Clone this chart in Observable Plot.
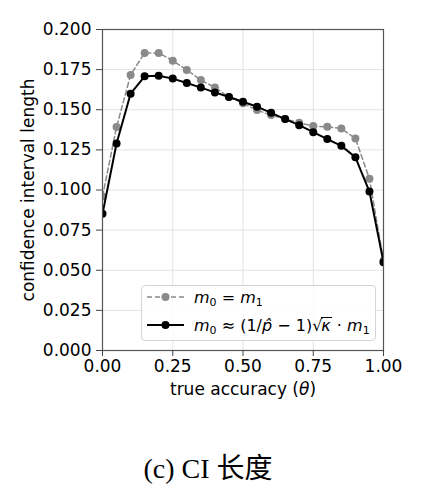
<!DOCTYPE html>
<html><head><meta charset="utf-8">
<script src="https://cdn.jsdelivr.net/npm/d3@7"></script>
<script src="https://cdn.jsdelivr.net/npm/@observablehq/plot@0.6"></script>
<style>
html,body{margin:0;padding:0;background:#fff;}
#wrap{position:relative;width:424px;height:498px;font-family:"DejaVu Sans",sans-serif;color:#000;}
#legend{position:absolute;left:141px;top:285px;width:235px;height:56px;border:1px solid #d4d4d4;border-radius:4px;background:rgba(255,255,255,0.85);box-sizing:border-box;}
.row{position:absolute;left:5px;height:22px;display:flex;align-items:center;font-size:16px;white-space:nowrap;}
.row svg{margin-right:10px;}
.row i{font-style:italic;}
.row sub{font-size:11px;vertical-align:-3px;line-height:0;}
.ov{display:inline-block;border-top:1.3px solid #000;line-height:1.0;padding:0 1px 0 0;margin-left:-1px;}
#caption{position:absolute;left:0;width:416px;top:446px;text-align:center;font-family:"Liberation Serif","Noto Sans CJK SC",serif;font-size:28px;}
</style>
</head><body>
<div id="wrap"><div id="chart"></div>
<div id="legend">
 <div class="row" style="top:0px"><svg width="37" height="12"><line x1="0" y1="6" x2="37" y2="6" stroke="#8a8a8a" stroke-width="1.5" stroke-dasharray="5,3"/><circle cx="18.5" cy="6" r="4" fill="#8a8a8a"/></svg><span><i>m</i><sub>0</sub> = <i>m</i><sub>1</sub></span></div>
 <div class="row" style="top:28px"><svg width="37" height="12"><line x1="0" y1="6" x2="37" y2="6" stroke="#000" stroke-width="2"/><circle cx="18.5" cy="6" r="4" fill="#000"/></svg><span><i>m</i><sub>0</sub> ≈ (1/<i>p̂</i> − 1)√<span class="ov"><i>κ</i></span> · <i>m</i><sub>1</sub></span></div>
</div>
<div id="caption">(c) CI 长度</div>
</div>
<script>
const theta = [0,0.05,0.1,0.15,0.2,0.25,0.3,0.35,0.4,0.45,0.5,0.55,0.6,0.65,0.7,0.75,0.8,0.85,0.9,0.95,1.0];
const equalM = [0.096,0.1392,0.1717,0.1854,0.1854,0.1806,0.1748,0.1685,0.1638,0.1579,0.1540,0.1498,0.1467,0.1442,0.1419,0.1398,0.1394,0.1383,0.1321,0.107,0.056];
const approxM = [0.0852,0.129,0.160,0.1708,0.1712,0.1694,0.1667,0.1638,0.1608,0.1579,0.155,0.1519,0.1481,0.1442,0.1404,0.136,0.1317,0.1275,0.1204,0.099,0.055];
const xTicks = [0,0.25,0.5,0.75,1.0];
const yTicks = [0,0.025,0.05,0.075,0.1,0.125,0.15,0.175,0.2];
const xLabel = "true accuracy (θ)";
const yLabel = "confidence interval length";

const grayData = theta.map((t,i)=>({theta:t,value:equalM[i]}));
const blackData = theta.map((t,i)=>({theta:t,value:approxM[i]}));

const chart = Plot.plot({
  width:424, height:405,
  marginLeft:102, marginRight:41, marginTop:29, marginBottom:55,
  style:{fontFamily:"DejaVu Sans", fontSize:"17px", color:"#000", background:"transparent"},
  x:{domain:[0,1]},
  y:{domain:[0,0.2]},
  marks:[
    Plot.gridX(xTicks,{stroke:"#e3e3e3",strokeOpacity:1}),
    Plot.gridY(yTicks,{stroke:"#e3e3e3",strokeOpacity:1}),
    Plot.line(grayData,{x:"theta",y:"value",stroke:"#8a8a8a",strokeWidth:1.5,strokeDasharray:"5,3",clip:true}),
    Plot.dot(grayData,{x:"theta",y:"value",r:4,fill:"#8a8a8a",stroke:"none",clip:true}),
    Plot.line(blackData,{x:"theta",y:"value",stroke:"#000",strokeWidth:2,clip:true}),
    Plot.dot(blackData,{x:"theta",y:"value",r:4,fill:"#000",stroke:"none",clip:true}),
    Plot.frame({stroke:"#555",strokeWidth:1.2}),
    Plot.axisX(xTicks,{tickSize:6,tickPadding:3,tickFormat:d3.format(".2f"),label:null,fontSize:17,stroke:"#444"}),
    Plot.axisY(yTicks,{tickSize:6,tickPadding:5,tickFormat:d3.format(".3f"),label:null,fontSize:17,stroke:"#444"}),
    Plot.text([xLabel],{frameAnchor:"bottom",dy:39,fontSize:17,textAnchor:"middle",lineAnchor:"middle",className:"xlab"}),
    Plot.text([yLabel],{frameAnchor:"left",dx:-74,rotate:-90,fontSize:17,textAnchor:"middle",lineAnchor:"middle"})
  ]
});
document.getElementById("chart").appendChild(chart);
d3.select(chart).selectAll(".xlab text").each(function(){
  const t = d3.select(this);
  t.text(null);
  t.append("tspan").text("true accuracy (");
  t.append("tspan").attr("font-style","italic").text("θ");
  t.append("tspan").text(")");
});
</script>
</body></html>
